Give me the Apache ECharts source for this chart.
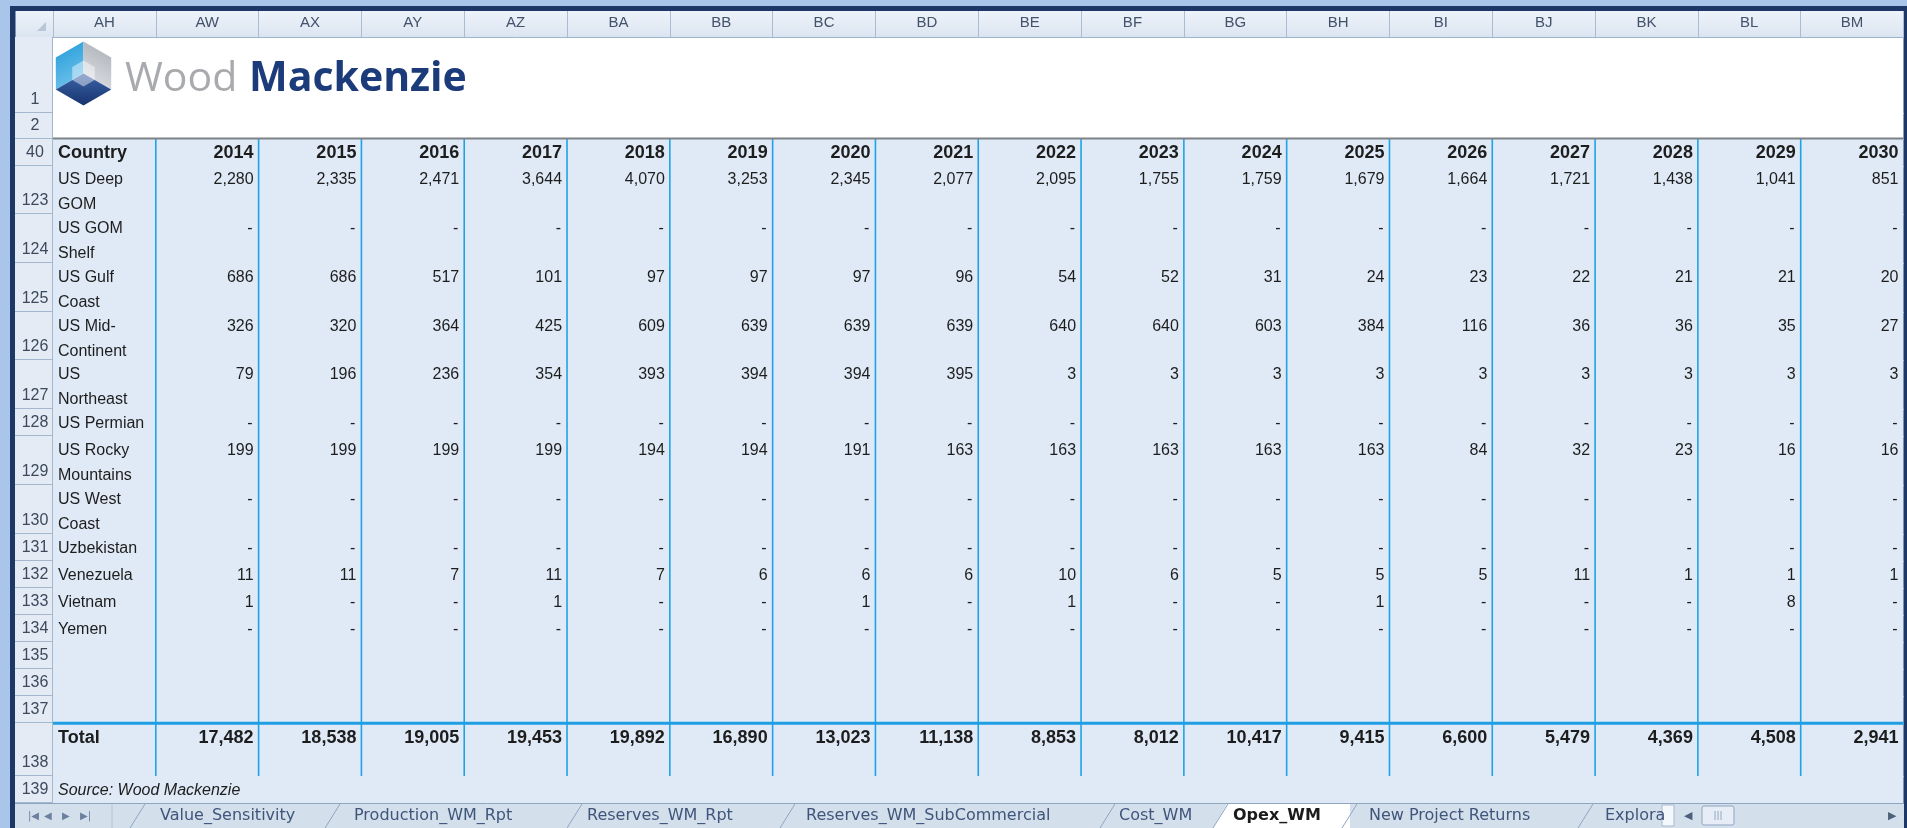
<!DOCTYPE html>
<html><head><meta charset="utf-8">
<script src="https://cdn.jsdelivr.net/npm/echarts@6/dist/echarts.min.js"></script>
<style>html,body{margin:0;padding:0;background:#a9c6ea;overflow:hidden}#c{width:1907px;height:828px}</style>
</head><body><div id="c"></div>
<script>
// ---------------- data ----------------
const columnLetters = ['AH','AW','AX','AY','AZ','BA','BB','BC','BD','BE','BF','BG','BH','BI','BJ','BK','BL','BM'];
const years = [2014,2015,2016,2017,2018,2019,2020,2021,2022,2023,2024,2025,2026,2027,2028,2029,2030];
const headerLabel = 'Country';
const countries = ['US Deep\nGOM','US GOM\nShelf','US Gulf\nCoast','US Mid-\nContinent','US\nNortheast','US Permian','US Rocky\nMountains','US West\nCoast','Uzbekistan','Venezuela','Vietnam','Yemen'];
const countryRowNumbers = [123,124,125,126,127,128,129,130,131,132,133,134];
const usDeepGom      = [2280,2335,2471,3644,4070,3253,2345,2077,2095,1755,1759,1679,1664,1721,1438,1041,851];
const usGomShelf     = [null,null,null,null,null,null,null,null,null,null,null,null,null,null,null,null,null];
const usGulfCoast    = [686,686,517,101,97,97,97,96,54,52,31,24,23,22,21,21,20];
const usMidContinent = [326,320,364,425,609,639,639,639,640,640,603,384,116,36,36,35,27];
const usNortheast    = [79,196,236,354,393,394,394,395,3,3,3,3,3,3,3,3,3];
const usPermian      = [null,null,null,null,null,null,null,null,null,null,null,null,null,null,null,null,null];
const usRocky        = [199,199,199,199,194,194,191,163,163,163,163,163,84,32,23,16,16];
const usWestCoast    = [null,null,null,null,null,null,null,null,null,null,null,null,null,null,null,null,null];
const uzbekistan     = [null,null,null,null,null,null,null,null,null,null,null,null,null,null,null,null,null];
const venezuela      = [11,11,7,11,7,6,6,6,10,6,5,5,5,11,1,1,1];
const vietnam        = [1,null,null,1,null,null,1,null,1,null,null,1,null,null,null,8,null];
const yemen          = [null,null,null,null,null,null,null,null,null,null,null,null,null,null,null,null,null];
const totalLabel = 'Total';
const totals = [17482,18538,19005,19453,19892,16890,13023,11138,8853,8012,10417,9415,6600,5479,4369,4508,2941];
const sourceNote = 'Source: Wood Mackenzie';
const sheetTabs = ['Value_Sensitivity','Production_WM_Rpt','Reserves_WM_Rpt','Reserves_WM_SubCommercial','Cost_WM','Opex_WM','New Project Returns','Explora'];
const activeTab = 'Opex_WM';
const countryValues = [usDeepGom,usGomShelf,usGulfCoast,usMidContinent,usNortheast,usPermian,usRocky,usWestCoast,uzbekistan,venezuela,vietnam,yemen];

// ---------------- layout (row heights in text-line units) ----------------
const rows = [];
rows.push({num:1, h:2.8, type:'logo'});
rows.push({num:2, h:0.95, type:'blank'});
rows.push({num:40, h:1, type:'header'});
countries.forEach((c,i)=>rows.push({num:countryRowNumbers[i], h:c.indexOf('\n')>=0?1.8:1, type:'country', label:c, values:countryValues[i]}));
[135,136,137].forEach(n=>rows.push({num:n, h:1, type:'empty'}));
rows.push({num:138, h:1.95, type:'total'});
rows.push({num:139, h:1, type:'source'});
let acc = 0; rows.forEach(r=>{r.y0=acc; acc+=r.h; r.y1=acc;});
const TOTAL_H = acc;
const rowOf = t => rows.find(r=>r.type===t);

const FONT = '"Liberation Sans", Arial, sans-serif';
const fmt = v => v==null ? '-' : v.toLocaleString('en-US');

// cells
const cells = [];
const hdr = rowOf('header');
cells.push({col:0, y:hdr.y0, text:headerLabel, align:'left', font:'bold 18px '+FONT});
years.forEach((y,j)=>cells.push({col:j+1, y:hdr.y0, text:String(y), align:'right', font:'bold 18px '+FONT}));
rows.filter(r=>r.type==='country').forEach(r=>{
  cells.push({col:0, y:r.y0, text:r.label, align:'left', font:'16px '+FONT});
  r.values.forEach((v,j)=>cells.push({col:j+1, y:r.y0, text:fmt(v), align:'right', font:'16px '+FONT, dash:v==null}));
});
const tot = rowOf('total');
cells.push({col:0, y:tot.y0, text:totalLabel, align:'left', font:'bold 18px '+FONT});
totals.forEach((v,j)=>cells.push({col:j+1, y:tot.y0, text:fmt(v), align:'right', font:'bold 18px '+FONT}));
const src = rowOf('source');
cells.push({col:0, y:src.y0, text:sourceNote, align:'left', font:'italic 16px '+FONT});

// rules
const rules = [];
for (let c=1;c<columnLetters.length;c++) rules.push({kind:'v', col:c});
rules.push({kind:'hgray'});
rules.push({kind:'hblue'});

// ---------------- chart ----------------
const chart = echarts.init(document.getElementById('c'), null, {width:1907, height:828});

function rowsRender(params, api){
  const idx = api.value(2);
  const r = rows[idx];
  const cs = params.coordSys;
  const top = Math.round(api.coord([0, r.y0])[1]), bot = Math.round(api.coord([0, r.y1])[1]);
  const left = cs.x, right = cs.x + cs.width;
  const ext = idx < rows.length-1 ? 1 : 0;
  return {type:'group', children:[
    {type:'rect', shape:{x:left, y:top, width:right-left, height:bot-top+ext}, style:{fill: r.num<=2 ? '#ffffff' : '#dfeaf6'}},
    {type:'rect', shape:{x:left-38, y:top, width:38, height:bot-top+ext}, style:{fill:'#e4ebf5'}},
    {type:'line', shape:{x1:left-38, y1:bot-0.5, x2:left, y2:bot-0.5}, style:{stroke:'#a3b7cf', lineWidth:1}},
    {type:'line', shape:{x1:left-0.5, y1:top, x2:left-0.5, y2:bot}, style:{stroke:'#a3b7cf', lineWidth:1}},
    {type:'text', style:{x:left-18, y:bot-13, text:String(r.num), align:'center', verticalAlign:'middle', font:'16px '+FONT, fill:'#3c4a5c'}}
  ]};
}
function cellsRender(params, api){
  const d = cells[params.dataIndex];
  const p = api.coord([api.value(0), api.value(1)]);
  const bw = api.size([1,0])[0];
  const x = d.align==='right' ? p[0]+bw/2-(d.dash?6:5) : p[0]-bw/2+5;
  return {type:'text', style:{x:x, y:p[1]+2, text:d.text, align:d.align, verticalAlign:'top', font:d.font, fill:'#1d1d1d', lineHeight:25}};
}
function rulesRender(params, api){
  const d = rules[params.dataIndex];
  const cs = params.coordSys;
  const bw = api.size([1,0])[0];
  const yTop = api.coord([0, hdr.y0])[1], yBot = api.coord([0, tot.y1])[1], yTot = api.coord([0, tot.y0])[1];
  if (d.kind==='v') {
    const x = api.coord([d.col, 0])[0] - bw/2;
    return {type:'line', shape:{x1:x, y1:yTop, x2:x, y2:yBot}, style:{stroke:'#1ea3e6', lineWidth:1.6}};
  }
  if (d.kind==='hgray') return {type:'line', shape:{x1:cs.x, y1:yTop, x2:cs.x+cs.width, y2:yTop}, style:{stroke:'#7d8185', lineWidth:2}};
  return {type:'line', shape:{x1:cs.x, y1:yTot, x2:cs.x+cs.width, y2:yTot}, style:{stroke:'#1e9fe3', lineWidth:3}};
}

// logo hexagon
const hx=83.5, hy=73.5, hr=32, hw=hr*Math.sqrt(3)/2;
const T=[hx,hy-hr], UR=[hx+hw,hy-hr/2], LR=[hx+hw,hy+hr/2], B=[hx,hy+hr], LL=[hx-hw,hy+hr/2], UL=[hx-hw,hy-hr/2], C=[hx,hy];
const ir=13, iw=ir*Math.sqrt(3)/2;

// tabs layout (chrome)
const tabTextX = [160,354,587,806,1119,1233,1369,1605];
const tabSlantX = [130,325,567,780,1100,1213,1342,1578];
const tabEls = [];
tabEls.push({type:'rect', z:50, shape:{x:15, y:803, width:1889, height:25}, style:{fill:'#d4dfec'}});
tabEls.push({type:'line', z:51, shape:{x1:15, y1:803.5, x2:1904, y2:803.5}, style:{stroke:'#8ea5c2', lineWidth:1}});
const ai = sheetTabs.indexOf(activeTab);
tabEls.push({type:'polygon', z:51, shape:{points:[[tabSlantX[ai],828],[tabSlantX[ai]+14,804],[tabSlantX[ai+1]+8,804],[tabSlantX[ai+1]+8,828]]}, style:{fill:'#ffffff'}});
sheetTabs.forEach((t,i)=>{
  tabEls.push({type:'line', z:52, shape:{x1:tabSlantX[i], y1:828, x2:tabSlantX[i]+15, y2:804}, style:{stroke:'#8ea5c2', lineWidth:1}});
  tabEls.push({type:'text', z:53, style:{x:tabTextX[i], y:816, text:t, verticalAlign:'middle', font:(t===activeTab?'bold ':'')+'16px "DejaVu Sans", sans-serif', fill:t===activeTab?'#1b1b1b':'#40557a'}});
});
[['|◀',28],['◀',44],['▶',62],['▶|',80]].forEach(a=>tabEls.push({type:'text', z:53, style:{x:a[1], y:816, text:a[0], verticalAlign:'middle', font:'10px "DejaVu Sans"', fill:'#6a809e'}}));
tabEls.push({type:'line', z:52, shape:{x1:112, y1:804, x2:112, y2:828}, style:{stroke:'#b4c4d8', lineWidth:1}});
tabEls.push({type:'rect', z:52, shape:{x:1662, y:805, width:12, height:21}, style:{fill:'#f4f7fb', stroke:'#a8b9cf'}});
tabEls.push({type:'text', z:53, style:{x:1684, y:816, text:'◀', verticalAlign:'middle', font:'11px "DejaVu Sans"', fill:'#4d5f7a'}});
tabEls.push({type:'rect', z:52, shape:{x:1702, y:806, width:32, height:19, r:2}, style:{fill:'#e6edf6', stroke:'#8ea5c2'}});
tabEls.push({type:'text', z:53, style:{x:1718, y:816, text:'|||', align:'center', verticalAlign:'middle', font:'9px "DejaVu Sans"', fill:'#8297b4'}});
tabEls.push({type:'text', z:53, style:{x:1888, y:816, text:'▶', verticalAlign:'middle', font:'11px "DejaVu Sans"', fill:'#4d5f7a'}});

chart.setOption({
  animation:false,
  backgroundColor:'#a9c6ea',
  grid:{left:53, right:3.5, top:37, bottom:25},
  xAxis:{type:'category', data:columnLetters, position:'top', boundaryGap:true, z:10,
    axisLine:{show:true, lineStyle:{color:'#9fb4cc', width:1}},
    axisTick:{show:true, interval:0, length:26, lineStyle:{color:'#a9bcd2'}},
    axisLabel:{interval:0, margin:7, color:'#42526a', fontSize:15, fontFamily:'Liberation Sans'},
    splitLine:{show:false}},
  yAxis:{type:'value', inverse:true, min:0, max:TOTAL_H, show:false, splitLine:{show:false}},
  graphic:{elements:[
    {type:'rect', z:-20, shape:{x:10, y:6, width:1897, height:822}, style:{fill:'#1d3866'}},
    {type:'rect', z:-19, shape:{x:15.5, y:11, width:1888, height:26}, style:{fill:new echarts.graphic.LinearGradient(0,0,0,1,[{offset:0,color:'#eef3fa'},{offset:1,color:'#dbe5f1'}])}},
    {type:'polygon', z:100, shape:{points:[[46,22],[46,31],[37,31]]}, style:{fill:'#b9c6d6'}},
    // logo
    {type:'polygon', z:100, shape:{points:[T,C,LL,UL]}, style:{fill:new echarts.graphic.LinearGradient(0,0,1,1,[{offset:0,color:'#1f9ad8'},{offset:1,color:'#7cc8ee'}])}},
    {type:'polygon', z:100, shape:{points:[T,UR,LR,C]}, style:{fill:new echarts.graphic.LinearGradient(1,0,0,1,[{offset:0,color:'#a9adb3'},{offset:1,color:'#e2e5ea'}])}},
    {type:'polygon', z:100, shape:{points:[C,LR,B,LL]}, style:{fill:new echarts.graphic.LinearGradient(0,0,0,1,[{offset:0,color:'#3c64a8'},{offset:1,color:'#16336e'}])}},
    {type:'polygon', z:101, shape:{points:[[hx,hy-ir],[hx+iw,hy-ir/2],[hx+iw,hy+ir/2],[hx,hy+ir],[hx-iw,hy+ir/2],[hx-iw,hy-ir/2]]}, style:{fill:'rgba(255,255,255,0.45)'}},
    {type:'text', z:100, style:{x:125, y:79, text:'Wood', verticalAlign:'middle', font:'400 41px "Open Sans", sans-serif', fill:'#a8aaad'}},
    {type:'text', z:100, style:{x:249, y:79, text:'Mackenzie', verticalAlign:'middle', font:'700 41px "Open Sans", sans-serif', fill:'#1b3b7a'}},
    ...tabEls
  ]},
  series:[
    {type:'custom', name:'rows', z:1, clip:false, silent:true, renderItem:rowsRender, encode:{x:0,y:1},
     data:rows.map((r,i)=>[0, r.y0, i])},
    {type:'custom', name:'rules', z:3, clip:false, silent:true, renderItem:rulesRender, encode:{x:0,y:1},
     data:rules.map((d,i)=>[d.col||0, 0, i])},
    {type:'custom', name:'cells', z:4, clip:false, silent:true, renderItem:cellsRender, encode:{x:0,y:1},
     data:cells.map(d=>[d.col, d.y])}
  ]
});
</script></body></html>
